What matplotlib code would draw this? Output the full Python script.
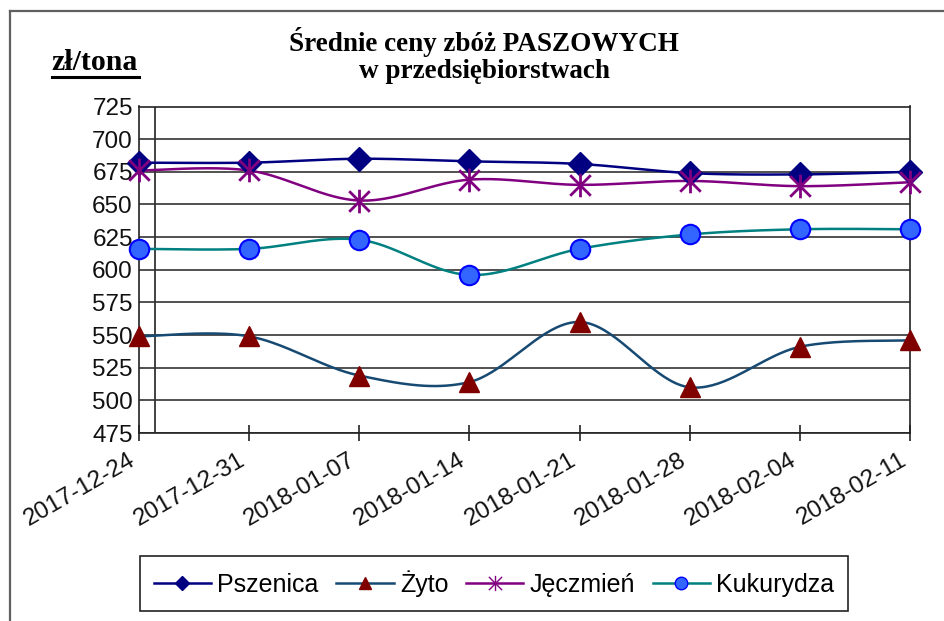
import numpy as np
import matplotlib
matplotlib.use("Agg")
import matplotlib.pyplot as plt
from matplotlib.lines import Line2D
from matplotlib.path import Path

dates = ["2017-12-24", "2017-12-31", "2018-01-07", "2018-01-14",
         "2018-01-21", "2018-01-28", "2018-02-04", "2018-02-11"]
pszenica = [682, 682, 685, 683, 681, 674, 673, 675]
zyto = [549, 549, 519, 514, 560, 510, 541, 546]
jeczmien = [676, 676, 653, 669, 665, 668, 664, 667]
kukurydza = [616, 616, 623, 596, 616, 627, 631, 631]
yticks = [475, 500, 525, 550, 575, 600, 625, 650, 675, 700, 725]

W, H = 944, 621
fig = plt.figure(figsize=(W / 100, H / 100), dpi=100)

def fx(px):
    return px / W

def fy(py):
    return 1 - py / H

ax = fig.add_axes([fx(139), fy(433), fx(910) - fx(139), fy(106.5) - fy(433)])

def smooth(y, n=40):
    """Excel-like smoothed line (Catmull-Rom Bezier)."""
    y = np.asarray(y, dtype=float)
    x = np.arange(len(y), dtype=float)
    P = np.column_stack([x, y])
    Pe = np.vstack([P[0], P, P[-1]])
    xs, ys = [], []
    t = np.linspace(0, 1, n)
    for i in range(len(P) - 1):
        p0 = P[i]
        p3 = P[i + 1]
        c1 = p0 + (Pe[i + 2] - Pe[i]) / 6.0
        c2 = p3 - (Pe[i + 3] - Pe[i + 1]) / 6.0
        b = ((1 - t) ** 3)[:, None] * p0 + (3 * (1 - t) ** 2 * t)[:, None] * c1 \
            + (3 * (1 - t) * t ** 2)[:, None] * c2 + (t ** 3)[:, None] * p3
        xs.append(b[:, 0])
        ys.append(b[:, 1])
    return np.concatenate(xs), np.concatenate(ys)

star = Path([(0, -1), (0, 1), (-0.87, -0.87), (0.87, 0.87), (-0.87, 0.87), (0.87, -0.87)],
            [Path.MOVETO, Path.LINETO, Path.MOVETO, Path.LINETO, Path.MOVETO, Path.LINETO])

xi = np.arange(len(dates))
lw = 1.8

series = [
    ("Pszenica", pszenica, "#000080", dict(marker="D", ms=12, mfc="#000080", mec="#000080", mew=1)),
    ("Żyto", zyto, "#174A73", dict(marker="^", ms=15, mfc="#800000", mec="#800000", mew=1)),
    ("Jęczmień", jeczmien, "#800080", dict(marker=star, ms=17, mfc="none", mec="#800080", mew=2)),
    ("Kukurydza", kukurydza, "#008080", dict(marker="o", ms=14, mfc="#3366FF", mec="#0000FF", mew=1.5)),
]

for name, vals, col, mk in series:
    sx, sy = smooth(vals)
    ax.plot(sx, sy, color=col, lw=lw, zorder=3, clip_on=False)
for name, vals, col, mk in series:
    ax.plot(xi, vals, linestyle="none", zorder=4, clip_on=False, **mk)

ax.set_xlim(0, len(dates) - 1)
ax.set_ylim(475, 725)
ax.set_yticks(yticks)
ax.set_yticklabels([str(v) for v in yticks], fontsize=17.5, family="Liberation Sans", color="#111111")
ax.set_xticks(xi)
ax.set_xticklabels(dates, rotation=30, ha="right", fontsize=17.5, family="Liberation Sans", color="#111111")
ax.tick_params(axis="y", length=0, pad=4.5)
ax.tick_params(axis="x", direction="inout", length=11.5, width=1.2, color="#222222", pad=6)
for lab in ax.get_xticklabels():
    lab.set_x(lab.get_position()[0])
ax.grid(axis="y", color="#333333", lw=1.2, zorder=1)
for s in ["left", "right", "bottom", "top"]:
    ax.spines[s].set_color("#222222")
    ax.spines[s].set_linewidth(1.2)
# inner vertical line near the left axis
ax.plot([16 / 771, 16 / 771], [0, 1], transform=ax.transAxes, color="#222222", lw=1.2, zorder=1)

# Titles
fig.text(fx(484), fy(42), "Średnie ceny zbóż PASZOWYCH", ha="center", va="center",
         family="Liberation Serif", weight="bold", fontsize=19.5)
fig.text(fx(484), fy(72), "w przedsiębiorstwach", ha="center", va="center",
         family="Liberation Serif", weight="bold", fontsize=19.5)
fig.text(fx(51), fy(63), "zł/tona", ha="left", va="center",
         family="Liberation Serif", weight="bold", fontsize=21.5)
fig.add_artist(Line2D([fx(52), fx(139)], [fy(76.5), fy(76.5)], transform=fig.transFigure,
                      color="black", lw=2.2))

# outer border
fig.add_artist(Line2D([fx(10), fx(944)], [fy(11), fy(11)], transform=fig.transFigure, color="#606060", lw=1.6))
fig.add_artist(Line2D([fx(10), fx(10)], [fy(11), fy(621)], transform=fig.transFigure, color="#606060", lw=1.6))

# legend
handles = [
    Line2D([], [], color="#000080", lw=lw, marker="D", ms=7, mfc="#000080", mec="#000080"),
    Line2D([], [], color="#174A73", lw=lw, marker="^", ms=9, mfc="#800000", mec="#800000"),
    Line2D([], [], color="#800080", lw=lw, marker=star, ms=11, mfc="none", mec="#800080", mew=1),
    Line2D([], [], color="#008080", lw=lw, marker="o", ms=9, mfc="#3366FF", mec="#0000FF"),
]
leg = fig.legend(handles, [s[0] for s in series], loc="center",
                 bbox_to_anchor=(fx(494), fy(583.5)), ncol=4, frameon=True, fancybox=False,
                 edgecolor="#222222", framealpha=1,
                 prop={"family": "Liberation Sans", "size": 18},
                 handlelength=2.3, handletextpad=0.25, columnspacing=0.7, borderpad=0.55)
leg.get_frame().set_linewidth(1.2)

fig.savefig("out.png", dpi=100)
